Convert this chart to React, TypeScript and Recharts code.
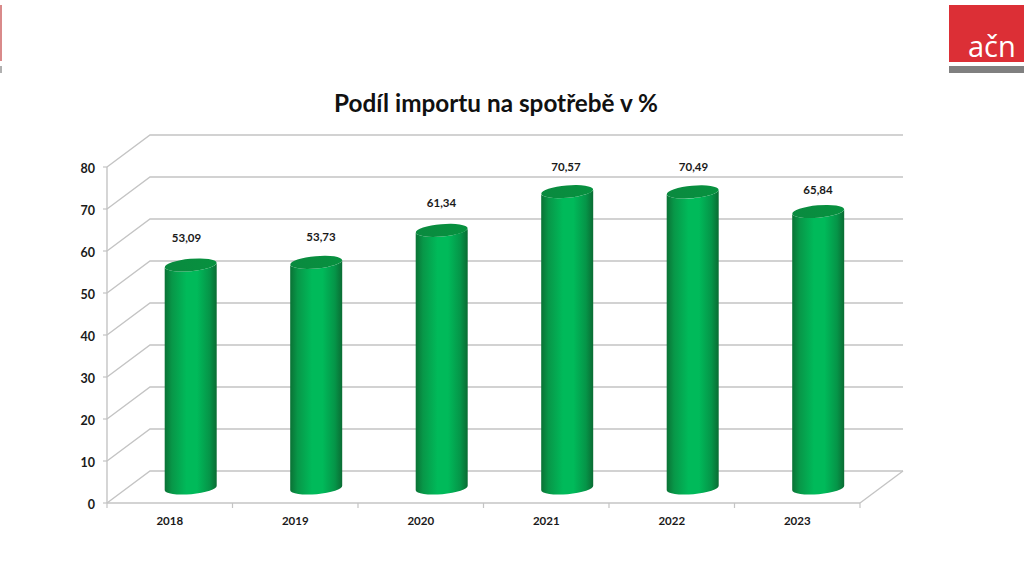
import React from "react";
import { BarChart, Bar, XAxis, YAxis, CartesianGrid, LabelList } from "recharts";

const years = ["2018", "2019", "2020", "2021", "2022", "2023"];
const shares = [53.09, 53.73, 61.34, 70.57, 70.49, 65.84];
const yTicks = [0, 10, 20, 30, 40, 50, 60, 70, 80];
const TITLE = "Podíl importu na spotřebě v %";

const rows = years.map((year, i) => ({ year, share: shares[i] }));

const W = 1024, H = 576;
const LEFT = 107, RIGHT = 860, TOP = 167, BOTTOM = 503;
const DX = 43, DY = -32;
const GRID = "#c4c4c4";
const FONT = "Lato, sans-serif";
const bandW = (RIGHT - LEFT) / years.length;
const labelNudge = [-5, 4, -1, -2, 0, -1];
const labelRise = [26, 24, 26, 24, 24, 20];

const fmt = (v: number) => v.toFixed(2).replace(".", ",");

function Cylinder(props: any) {
  const { x, y, width, height } = props;
  const left = x + DX / 2 - 0.8;
  const right = left + width;
  const r = width / 2;
  const ry = 6.2;
  const tilt = -5;
  const t = 2.3;
  const top = y + DY / 2 + 1;
  const base = top + height;
  const body = `M${left},${top + t} L${left},${base + t} A${r},${ry} ${tilt} 0 0 ${right},${base - t} L${right},${top - t} A${r},${ry} ${tilt} 0 1 ${left},${top + t} Z`;
  return (
    <g>
      <path d={body} fill="url(#cylBody)" />
      <ellipse cx={left + r} cy={top} rx={r} ry={ry} transform={`rotate(${tilt} ${left + r} ${top})`} fill="url(#cylCap)" />
    </g>
  );
}

function gridLine(props: any) {
  const { x1, x2, y1 } = props;
  const isFloor = Math.abs(y1 - BOTTOM) < 1;
  return (
    <g key={`g-${y1}`} fill="none" stroke={GRID} strokeWidth={1.4}>
      <polyline points={`${x1},${y1} ${x1 + DX},${y1 + DY} ${x2 + DX},${y1 + DY}`} />
      {isFloor && <line x1={x2} y1={y1} x2={x2 + DX} y2={y1 + DY} />}
    </g>
  );
}

function XTick(props: any) {
  const { x, index, payload } = props;
  const y0 = BOTTOM;
  const lx = x - bandW / 2;
  return (
    <g>
      <line x1={lx} y1={y0} x2={lx} y2={y0 + 5} stroke={GRID} strokeWidth={1.2} />
      {index === years.length - 1 && <line x1={lx + bandW} y1={y0} x2={lx + bandW} y2={y0 + 5} stroke={GRID} strokeWidth={1.2} />}
      <text x={x} y={y0 + 22} textAnchor="middle" fontFamily={FONT} fontWeight={700} fontSize={11.5} fill="#1a1a1a">
        {payload.value}
      </text>
    </g>
  );
}

function YTick(props: any) {
  const { x, y, payload } = props;
  return (
    <text x={x} y={y + 6} textAnchor="end" fontFamily={FONT} fontWeight={700} fontSize={12.5} fill="#1a1a1a">
      {payload.value}
    </text>
  );
}

function ValueLabel(props: any) {
  const { x, y, width, value, index } = props;
  return (
    <text
      x={x + DX / 2 + width / 2 + labelNudge[index]}
      y={y + DY / 2 - labelRise[index] + 4}
      textAnchor="middle"
      fontFamily={FONT}
      fontWeight={700}
      fontSize={11.5}
      fill="#1a1a1a"
    >
      {fmt(value)}
    </text>
  );
}

export default function App() {
  return (
    <div style={{ position: "absolute", left: 0, top: 0, width: W, height: H, background: "#fff", overflow: "hidden" }}>
      <div style={{ position: "absolute", left: 0, top: 5, width: 1.5, height: 56, background: "#d98a8a" }} />
      <div style={{ position: "absolute", left: 0, top: 66, width: 1.5, height: 7, background: "#b0b0b0" }} />
      <div style={{ position: "absolute", left: 949, top: 5, width: 75, height: 57, background: "#dc2f36" }}>
        <div style={{ position: "absolute", left: 19, top: 25, fontFamily: "'Open Sans', sans-serif", fontSize: 29, lineHeight: "32px", color: "#fff" }}>ačn</div>
      </div>
      <div style={{ position: "absolute", left: 949, top: 66, width: 75, height: 7, background: "#808080" }} />
      <div style={{ position: "absolute", left: 0, width: 992, top: 87, textAlign: "center", fontFamily: FONT, fontWeight: 700, fontSize: 24.3, lineHeight: "32px", color: "#111" }}>
        {TITLE}
      </div>
      <BarChart
        width={W}
        height={H}
        data={rows}
        barCategoryGap={0}
        margin={{ top: TOP, right: W - RIGHT, bottom: H - BOTTOM - 40, left: LEFT - 60 }}
        style={{ position: "absolute", left: 0, top: 0 }}
      >
        <defs>
          <linearGradient id="cylBody" x1="0" y1="0" x2="1" y2="0">
            <stop offset="0" stopColor="#0a7235" />
            <stop offset="0.14" stopColor="#089748" />
            <stop offset="0.42" stopColor="#00ba5a" />
            <stop offset="0.62" stopColor="#00ba5a" />
            <stop offset="0.86" stopColor="#059548" />
            <stop offset="1" stopColor="#0a6c33" />
          </linearGradient>
          <linearGradient id="cylCap" x1="0" y1="0" x2="1" y2="0">
            <stop offset="0" stopColor="#0a8a3f" />
            <stop offset="1" stopColor="#07913f" />
          </linearGradient>
        </defs>
        <CartesianGrid vertical={false} horizontal={gridLine} />
        <XAxis
          dataKey="year"
          height={40}
          axisLine={{ stroke: GRID, strokeWidth: 1.4 }}
          tickLine={false}
          interval={0}
          tick={<XTick />}
        />
        <YAxis
          width={60}
          domain={[0, 80]}
          ticks={yTicks}
          interval={0}
          axisLine={{ stroke: GRID, strokeWidth: 1.4 }}
          tickLine={{ stroke: GRID, strokeWidth: 1.2 }}
          tickSize={4}
          tickMargin={8}
          tick={<YTick />}
        />
        <Bar dataKey="share" barSize={52} isAnimationActive={false} shape={Cylinder}>
          <LabelList dataKey="share" content={ValueLabel} />
        </Bar>
      </BarChart>
    </div>
  );
}
